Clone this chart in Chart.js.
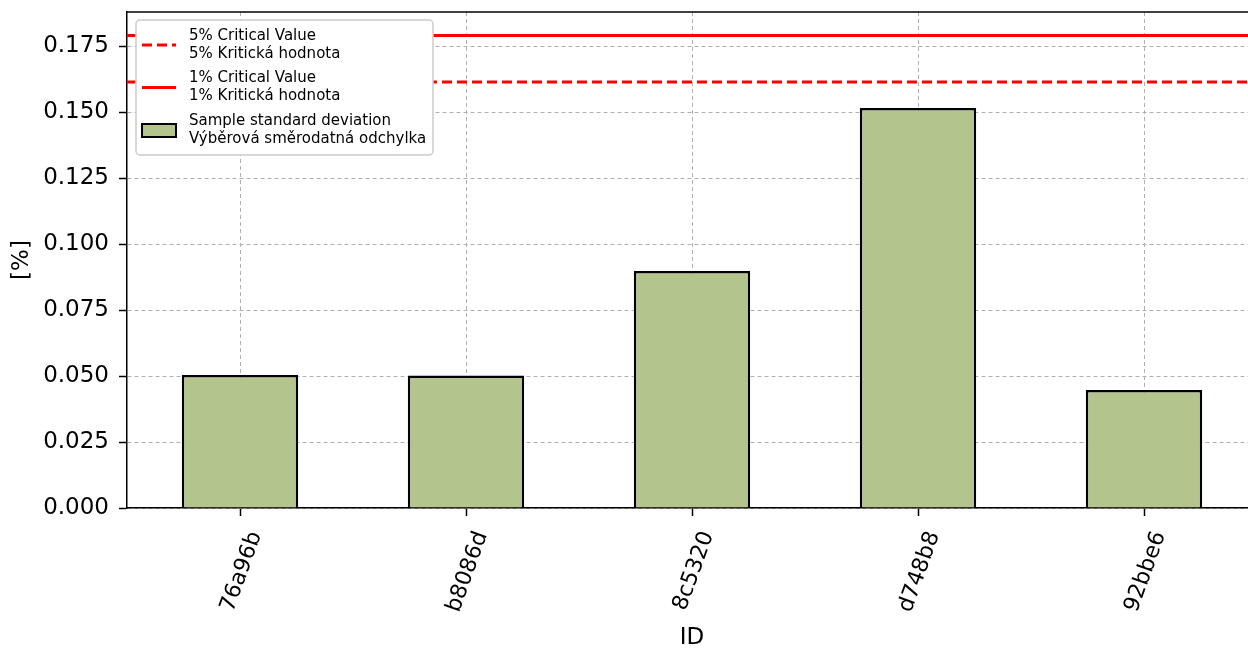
<!DOCTYPE html>
<html lang="cs">
<head>
<meta charset="UTF-8">
<script src="https://cdn.jsdelivr.net/npm/chart.js"></script>
<title>Sample standard deviation</title>
<style>
  html, body { margin: 0; padding: 0; overflow: hidden; background: #fff; }
</style>
</head>
<body>
<canvas id="myChart" width="1264" height="648"></canvas>
<script>
// data
const ids = ['76a96b', 'b8086d', '8c5320', 'd748b8', '92bbe6'];
const stdDev = [0.0504, 0.0502, 0.0898, 0.1515, 0.0447];
const crit5 = 0.1614;
const crit1 = 0.1790;
const yTicks = [0, 0.025, 0.05, 0.075, 0.1, 0.125, 0.15, 0.175];

const legendItems = [
  { kind: 'dash', lines: ['5% Critical Value', '5% Kritická hodnota'] },
  { kind: 'line', lines: ['1% Critical Value', '1% Kritická hodnota'] },
  { kind: 'bar', lines: ['Sample standard deviation', 'Výběrová směrodatná odchylka'] }
];

const FONT = 'DejaVu Sans';
const barColor = '#b3c48d';

// top spine + boxed legend drawn over the plot
const framePlugin = {
  id: 'frame',
  afterDraw(chart) {
    const ctx = chart.ctx;
    const a = chart.chartArea;
    ctx.save();
    ctx.strokeStyle = '#000';
    ctx.lineWidth = 1.5;
    ctx.beginPath();
    ctx.moveTo(a.left, a.top);
    ctx.lineTo(a.right, a.top);
    ctx.stroke();

    // legend box
    const bx = a.left + 9, by = a.top + 8, bw = 297, bh = 135;
    ctx.beginPath();
    ctx.roundRect(bx, by, bw, bh, 4);
    ctx.fillStyle = '#fff';
    ctx.fill();
    ctx.strokeStyle = '#cccccc';
    ctx.lineWidth = 1.5;
    ctx.stroke();

    ctx.font = '15px "' + FONT + '"';
    ctx.textBaseline = 'middle';
    ctx.textAlign = 'left';
    legendItems.forEach((it, i) => {
      const cy = by + 25 + i * 42.5;
      if (it.kind === 'bar') {
        ctx.fillStyle = barColor;
        ctx.fillRect(bx + 6, cy - 6, 34, 13);
        ctx.strokeStyle = '#000';
        ctx.lineWidth = 2;
        ctx.strokeRect(bx + 6, cy - 6, 34, 13);
      } else {
        ctx.strokeStyle = '#ff0000';
        ctx.lineWidth = 3;
        ctx.setLineDash(it.kind === 'dash' ? [10, 5] : []);
        ctx.beginPath();
        ctx.moveTo(bx + 6, cy);
        ctx.lineTo(bx + 40, cy);
        ctx.stroke();
        ctx.setLineDash([]);
      }
      ctx.fillStyle = '#000';
      ctx.fillText(it.lines[0], bx + 53, cy - 9);
      ctx.fillText(it.lines[1], bx + 53, cy + 9);
    });
    ctx.restore();
  }
};

const gridOpts = {
  color: '#b0b0b0',
  lineWidth: 1,
  tickColor: '#000',
  tickBorderDash: [],
  tickLength: 8,
  tickWidth: 1.5
};

const ctx = document.getElementById('myChart').getContext('2d');
new Chart(ctx, {
  type: 'bar',
  data: {
    labels: ids,
    datasets: [
      {
        type: 'bar',
        label: 'Sample standard deviation',
        data: stdDev,
        backgroundColor: barColor,
        borderColor: '#000',
        borderWidth: 2.5,
        barPercentage: 0.515,
        categoryPercentage: 1.0,
        grouped: false,
        xAxisID: 'x',
        yAxisID: 'y',
        order: 2
      },
      {
        type: 'line',
        label: '5% Critical Value',
        data: [{ x: 0, y: crit5 }, { x: 1, y: crit5 }],
        borderColor: '#ff0000',
        borderWidth: 3,
        borderDash: [10, 5],
        pointRadius: 0,
        xAxisID: 'x2',
        yAxisID: 'y',
        order: 1
      },
      {
        type: 'line',
        label: '1% Critical Value',
        data: [{ x: 0, y: crit1 }, { x: 1, y: crit1 }],
        borderColor: '#ff0000',
        borderWidth: 3,
        pointRadius: 0,
        xAxisID: 'x2',
        yAxisID: 'y',
        order: 1
      }
    ]
  },
  options: {
    responsive: false,
    animation: false,
    layout: { padding: { top: 12, right: 7, left: 0, bottom: 0 } },
    plugins: {
      legend: { display: false },
      tooltip: { enabled: false }
    },
    scales: {
      x: {
        type: 'category',
        position: 'bottom',
        offset: true,
        z: 1,
        grid: Object.assign({ offset: false }, gridOpts),
        border: { color: '#000', width: 1.5, dash: [4, 3] },
        ticks: {
          color: '#000',
          font: { family: FONT, size: 22 },
          minRotation: 70,
          maxRotation: 70,
          labelOffset: 16,
          padding: 12
        },
        title: {
          display: true,
          text: 'ID',
          color: '#000',
          font: { family: FONT, size: 23 },
          padding: { top: 0, bottom: -4 }
        },
        afterFit(scale) {
          scale.height = 140;
          scale.paddingLeft = 0;
          scale.paddingRight = 0;
        }
      },
      x2: {
        type: 'linear',
        position: 'top',
        display: false,
        offset: false,
        min: 0,
        max: 1
      },
      y: {
        type: 'linear',
        min: 0,
        max: 0.1879,
        z: 1,
        grid: gridOpts,
        border: { color: '#000', width: 1.5, dash: [4, 3] },
        afterBuildTicks(scale) {
          scale.ticks = yTicks.map(v => ({ value: v }));
        },
        ticks: {
          color: '#000',
          font: { family: FONT, size: 23 },
          padding: 10,
          callback: v => v.toFixed(3)
        },
        title: {
          display: true,
          text: '[%]',
          color: '#000',
          font: { family: FONT, size: 23 },
          padding: { top: 8, bottom: 6 }
        },
        afterFit(scale) {
          scale.width = 127;
          scale.paddingTop = 0;
          scale.paddingBottom = 0;
        }
      }
    }
  },
  plugins: [framePlugin]
});
</script>
</body>
</html>
